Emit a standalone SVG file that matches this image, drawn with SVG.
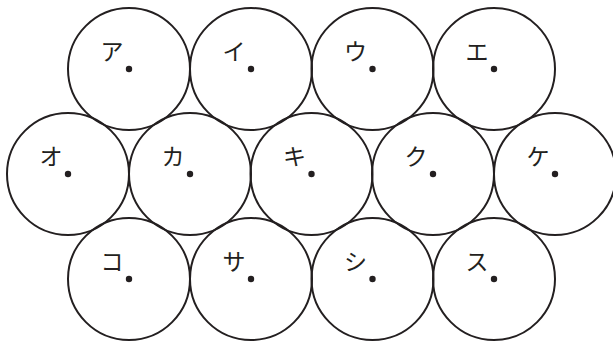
<svg xmlns="http://www.w3.org/2000/svg" width="613" height="345" viewBox="0 0 613 345">
<style>
.c{fill:none;stroke:#231f20;stroke-width:2}
.d{fill:#231f20}
.t{font-family:"Noto Sans CJK JP","Noto Sans CJK SC",sans-serif;font-size:23px;fill:#231f20;text-anchor:middle}
</style>
<rect width="613" height="345" fill="#fff"/>
<defs>
<g id="n"><circle class="c" r="61"/><circle class="d" r="3.2"/></g>
</defs>
<g id="connectors"/>
<g id="a"><use href="#n" x="129" y="69"/><text class="t" x="112" y="60">ア</text></g>
<g id="i"><use href="#n" x="251" y="69"/><text class="t" x="234" y="60">イ</text></g>
<g id="u"><use href="#n" x="372.5" y="69"/><text class="t" x="355.5" y="60">ウ</text></g>
<g id="e"><use href="#n" x="494" y="69"/><text class="t" x="477" y="60">エ</text></g>
<g id="o"><use href="#n" x="68" y="174"/><text class="t" x="51" y="165">オ</text></g>
<g id="ka"><use href="#n" x="190" y="174"/><text class="t" x="173" y="165">カ</text></g>
<g id="ki"><use href="#n" x="311.5" y="174"/><text class="t" x="294.5" y="165">キ</text></g>
<g id="ku"><use href="#n" x="433" y="174"/><text class="t" x="416" y="165">ク</text></g>
<g id="ke"><use href="#n" x="555" y="174"/><text class="t" x="538" y="165">ケ</text></g>
<g id="ko"><use href="#n" x="129" y="279"/><text class="t" x="112" y="270">コ</text></g>
<g id="sa"><use href="#n" x="251" y="279"/><text class="t" x="234" y="270">サ</text></g>
<g id="shi"><use href="#n" x="372.5" y="279"/><text class="t" x="355.5" y="270">シ</text></g>
<g id="su"><use href="#n" x="494" y="279"/><text class="t" x="477" y="270">ス</text></g>
</svg>
